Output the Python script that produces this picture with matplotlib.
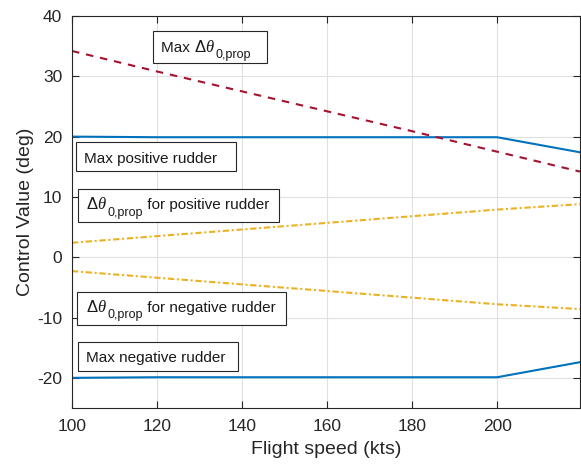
import matplotlib
matplotlib.use("Agg")
import matplotlib.pyplot as plt
from matplotlib.patches import Rectangle

plt.rcParams['font.family'] = ['Liberation Sans', 'DejaVu Sans']
plt.rcParams['mathtext.fontset'] = 'custom'
plt.rcParams['mathtext.rm'] = 'Liberation Sans'
plt.rcParams['mathtext.it'] = 'Liberation Serif:italic'
plt.rcParams['axes.unicode_minus'] = False

speed = [100, 120, 140, 160, 180, 200, 219.5]
max_pos = [20.0, 19.9, 19.9, 19.9, 19.9, 19.9, 17.4]
max_neg = [-20.0, -19.9, -19.9, -19.9, -19.9, -19.9, -17.4]
max_prop = [34.2, 30.8, 27.5, 24.2, 20.9, 17.5, 14.2]
prop_pos = [2.4, 3.5, 4.6, 5.7, 6.8, 7.9, 8.8]
prop_neg = [-2.3, -3.4, -4.5, -5.6, -6.7, -7.8, -8.6]

W, H = 581, 468
fig = plt.figure(figsize=(W/100, H/100), dpi=100)
ax = fig.add_axes([72/W, 60/H, 508/W, 392/H])

blue = '#0072BD'
red = '#A2142F'
yellow = '#EDB120'
lw = 1.5
ax.plot(speed, max_pos, color=blue, lw=lw)
ax.plot(speed, max_neg, color=blue, lw=lw)
ax.plot(speed, max_prop, color=red, lw=lw, ls=(0, (3.6, 3.3)))
ax.plot(speed, prop_pos, color=yellow, lw=lw, ls=(0, (3.0, 1.3, 1.0, 1.3)))
ax.plot(speed, prop_neg, color=yellow, lw=lw, ls=(0, (3.0, 1.3, 1.0, 1.3)))

ax.set_xlim(100, 219.5)
ax.set_ylim(-25, 40)
ax.set_xticks([100, 120, 140, 160, 180, 200])
ax.set_yticks([-20, -10, 0, 10, 20, 30, 40])
ax.grid(True, color='#e0e0e0', lw=0.8)
ax.set_axisbelow(True)
ax.tick_params(direction='in', top=True, right=True, labelsize=12.5, colors='#262626', length=5)
ax.tick_params(axis='x', pad=8)
ax.tick_params(axis='y', pad=7)
for s in ax.spines.values():
    s.set_color('#262626')
    s.set_linewidth(0.8)
ax.set_xlabel('Flight speed (kts)', fontsize=14, color='#262626', labelpad=5)
ax.set_ylabel('Control Value (deg)', fontsize=14, color='#262626', labelpad=2)

renderer = fig.canvas.get_renderer()
fs = 11
sub_fs = 9
col = '#1a1a1a'

def put(xpx, ypx, s, size=fs):
    t = fig.text(xpx/W, 1 - ypx/H, s, fontsize=size, va='baseline', ha='left', color=col)
    bb = t.get_window_extent(renderer)
    return xpx + bb.width

def prop_label(xpx, base, prefix, suffix):
    x = xpx
    if prefix:
        x = put(x, base, prefix)
    x = put(x, base, r'$\Delta\theta$', 12)
    x = put(x + 0.5, base + 6.5, '0,prop', sub_fs)
    if suffix:
        put(x, base, suffix)

# boxes: (left, top, right, bottom) in pixels
boxes = [
    (153, 31, 267, 63),
    (76, 142, 236, 171),
    (78, 189, 279, 222),
    (77, 292, 286, 325),
    (78, 342, 238, 371),
]
for l, t, r, b in boxes:
    fig.add_artist(Rectangle((l/W, 1 - b/H), (r - l)/W, (b - t)/H,
                             transform=fig.transFigure, fc='white', ec='#262626', lw=0.8, zorder=5))

prop_label(161, 51.7, 'Max ', '')
put(84, 162.5, 'Max positive rudder')
prop_label(86.5, 209.3, '', ' for positive rudder')
prop_label(86, 311.7, '', ' for negative rudder')
put(86.5, 361.7, 'Max negative rudder')
for t in fig.texts:
    t.set_zorder(6)

fig.savefig('out.png', dpi=100)
